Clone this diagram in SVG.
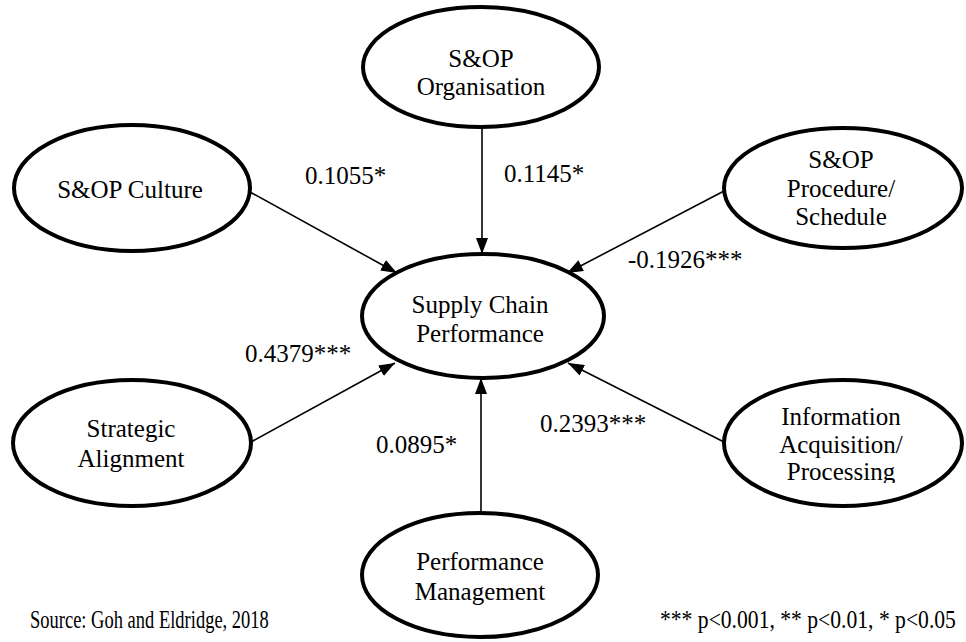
<svg xmlns="http://www.w3.org/2000/svg" width="966" height="642" viewBox="0 0 966 642" font-family="'Liberation Serif', 'DejaVu Serif', serif">
<style>
  .node ellipse { fill: #ffffff; stroke: #000000; stroke-width: 4; }
  text { font-family: 'Liberation Serif', 'DejaVu Serif', serif; font-size: 25px; fill: #000000; }
  .nt { text-anchor: middle; }
  .edge { stroke: #000000; stroke-width: 1.6; fill: none; marker-end: url(#arrow); }
</style>
<defs>
  <marker id="arrow" viewBox="0 0 16 12" refX="16" refY="6" markerWidth="16" markerHeight="12" markerUnits="userSpaceOnUse" orient="auto">
    <path d="M0,0 L16,6 L0,12 Z" fill="#000000"/>
  </marker>
  <clipPath id="clipProc"><rect x="700" y="360" width="266" height="123"/></clipPath>
</defs>
<rect width="966" height="642" fill="#ffffff"/>

<g id="connectors">
  <line class="edge" x1="482" y1="129" x2="482" y2="254"/>
  <line class="edge" x1="250" y1="192" x2="397" y2="273"/>
  <line class="edge" x1="724" y1="191" x2="567" y2="273"/>
  <line class="edge" x1="251" y1="442" x2="395" y2="363"/>
  <line class="edge" x1="724" y1="442" x2="568" y2="363"/>
  <line class="edge" x1="481" y1="513" x2="481" y2="378"/>
</g>

<g id="labels">
  <text x="305" y="184">0.1055*</text>
  <text x="504" y="182">0.1145*</text>
  <text x="628" y="268">-0.1926***</text>
  <text x="245" y="362">0.4379***</text>
  <text x="540" y="432">0.2393***</text>
  <text x="376" y="453">0.0895*</text>
</g>

<g id="node-organisation" class="node">
  <ellipse cx="481" cy="67" rx="118" ry="60"/>
  <text class="nt" x="481" y="67">S&amp;OP</text>
  <text class="nt" x="481" y="95">Organisation</text>
</g>

<g id="node-culture" class="node">
  <ellipse cx="132" cy="188" rx="118" ry="63"/>
  <text class="nt" x="130" y="198">S&amp;OP Culture</text>
</g>

<g id="node-procedure" class="node">
  <ellipse cx="843" cy="188" rx="119" ry="60"/>
  <text class="nt" x="841" y="168">S&amp;OP</text>
  <text class="nt" x="841" y="197">Procedure/</text>
  <text class="nt" x="841" y="225">Schedule</text>
</g>

<g id="node-scp" class="node">
  <ellipse cx="483" cy="316" rx="121" ry="62"/>
  <text class="nt" x="480" y="313">Supply Chain</text>
  <text class="nt" x="480" y="342">Performance</text>
</g>

<g id="node-strategic" class="node">
  <ellipse cx="132" cy="443" rx="119" ry="63"/>
  <text class="nt" x="131" y="437">Strategic</text>
  <text class="nt" x="131" y="467">Alignment</text>
</g>

<g id="node-information" class="node">
  <ellipse cx="843" cy="443" rx="119" ry="63"/>
  <text class="nt" x="841" y="425">Information</text>
  <text class="nt" x="841" y="453">Acquisition/</text>
  <text class="nt" x="841" y="480" clip-path="url(#clipProc)">Processing</text>
</g>

<g id="node-performance" class="node">
  <ellipse cx="480" cy="575" rx="118" ry="62"/>
  <text class="nt" x="480" y="570">Performance</text>
  <text class="nt" x="480" y="600">Management</text>
</g>

<g id="footer">
  <text transform="translate(30,628) scale(0.74,1)" x="0" y="0">Source: Goh and Eldridge, 2018</text>
  <text transform="translate(660,628) scale(0.865,1)" x="0" y="0">*** p&lt;0.001, ** p&lt;0.01, * p&lt;0.05</text>
</g>
</svg>
